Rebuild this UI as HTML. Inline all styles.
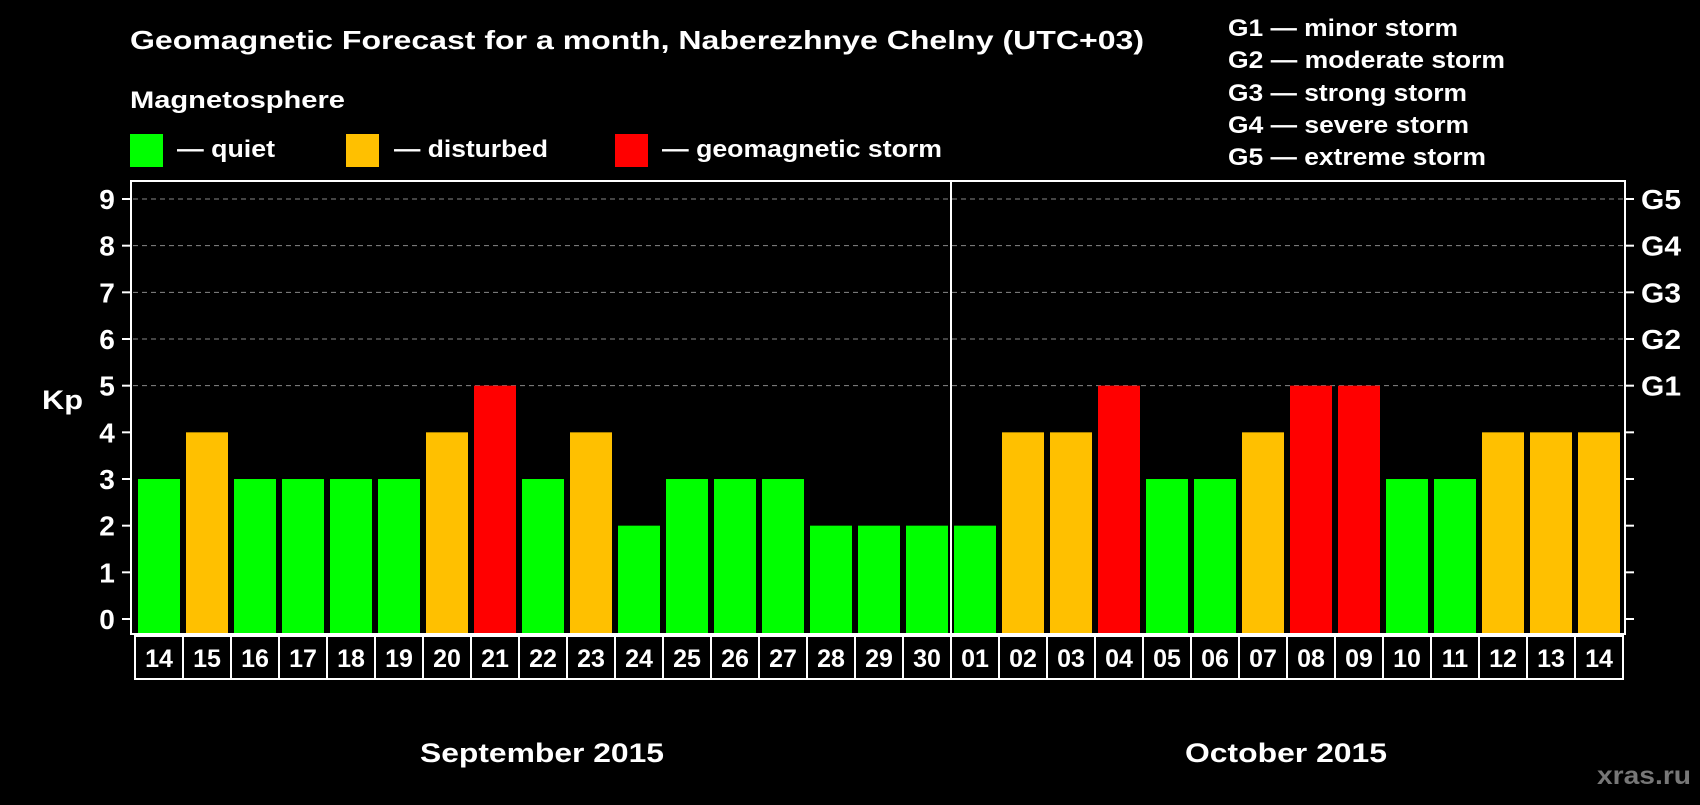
<!DOCTYPE html>
<html><head><meta charset="utf-8"><style>
body{margin:0;background:#000;width:1700px;height:800px;overflow:hidden;font-family:"Liberation Sans",Arial,sans-serif;}
svg text{font-family:"Liberation Sans",Arial,sans-serif;font-weight:bold;fill:#fff;}
</style></head><body>
<svg id="c" width="1700" height="800">
<text x="130" y="49" font-size="26" textLength="1014" lengthAdjust="spacingAndGlyphs">Geomagnetic Forecast for a month, Naberezhnye Chelny (UTC+03)</text>
<text x="130" y="108" font-size="24" textLength="215" lengthAdjust="spacingAndGlyphs">Magnetosphere</text>
<rect x="130" y="134" width="33" height="33" fill="#00ff00"/>
<text x="177" y="157" font-size="24" textLength="98" lengthAdjust="spacingAndGlyphs">— quiet</text>
<rect x="346" y="134" width="33" height="33" fill="#ffc000"/>
<text x="394" y="157" font-size="24" textLength="154" lengthAdjust="spacingAndGlyphs">— disturbed</text>
<rect x="615" y="134" width="33" height="33" fill="#ff0000"/>
<text x="662" y="157" font-size="24" textLength="280" lengthAdjust="spacingAndGlyphs">— geomagnetic storm</text>
<g font-size="24">
<text x="1228" y="36" textLength="230" lengthAdjust="spacingAndGlyphs">G1 — minor storm</text>
<text x="1228" y="68" textLength="277" lengthAdjust="spacingAndGlyphs">G2 — moderate storm</text>
<text x="1228" y="101" textLength="239" lengthAdjust="spacingAndGlyphs">G3 — strong storm</text>
<text x="1228" y="133" textLength="241" lengthAdjust="spacingAndGlyphs">G4 — severe storm</text>
<text x="1228" y="165" textLength="258" lengthAdjust="spacingAndGlyphs">G5 — extreme storm</text>
</g>
<text x="42" y="409" font-size="27" textLength="41" lengthAdjust="spacingAndGlyphs">Kp</text>
<g id="grid"></g><g id="bars"></g><g id="axes"></g>
<text x="420" y="762" font-size="27" textLength="244" lengthAdjust="spacingAndGlyphs">September 2015</text>
<text x="1185" y="762" font-size="27" textLength="202" lengthAdjust="spacingAndGlyphs">October 2015</text>
<text x="1597" y="784" font-size="25" style="fill:#777" textLength="94" lengthAdjust="spacingAndGlyphs">xras.ru</text>
</svg>
<script>
const days=["14","15","16","17","18","19","20","21","22","23","24","25","26","27","28","29","30","01","02","03","04","05","06","07","08","09","10","11","12","13","14"];
const kp=[3,4,3,3,3,3,4,5,3,4,2,3,3,3,2,2,2,2,4,4,5,3,3,4,5,5,3,3,4,4,4];
const yTicks=["0","1","2","3","4","5","6","7","8","9"];
const gLabels=["G1","G2","G3","G4","G5"];
const NS="http://www.w3.org/2000/svg";
const X0=135,STEP=48,Y0=619,UNIT=(619-199)/9;
const y=v=>Y0-v*UNIT, x=i=>X0+i*STEP;
function mk(t,a,p){const e=document.createElementNS(NS,t);for(const k in a)e.setAttribute(k,a[k]);p.appendChild(e);return e;}
const grid=document.getElementById('grid'),bars=document.getElementById('bars'),axes=document.getElementById('axes');
yTicks.forEach((t,i)=>{
 const yy=y(+t);
 if(i>=5){const l=mk('line',{x1:133,x2:1623,y1:yy,y2:yy,stroke:'#888','stroke-dasharray':'5,4','stroke-width':1},grid);
 
 }
 mk('line',{x1:122,x2:131,y1:yy,y2:yy,stroke:'#fff','stroke-width':2},axes);
 mk('line',{x1:1625,x2:1634,y1:yy,y2:yy,stroke:'#fff','stroke-width':2},axes);
 const tx=mk('text',{x:107,y:yy+10,'font-size':28,'text-anchor':'middle'},axes);tx.textContent=t;
 
 
});
gLabels.forEach((g,i)=>{const tx=mk('text',{x:1641,y:y(5+i)+10,'font-size':28,textLength:40,lengthAdjust:'spacingAndGlyphs'},axes);tx.textContent=g;
 
 });
kp.forEach((v,i)=>{
 const col=v>=5?'#ff0000':v>=4?'#ffc000':'#00ff00';
 const r=mk('rect',{x:x(i)+3,y:y(v),width:42,height:Y0+14-y(v),fill:col},bars);
 
 
 const c=mk('rect',{x:x(i),y:636,width:STEP,height:43,fill:'none',stroke:'#fff','stroke-width':2},axes);
 
 
 const t=mk('text',{x:x(i)+STEP/2,y:667,'font-size':25,'text-anchor':'middle'},axes);t.textContent=days[i];
 
 
});
const box=mk('rect',{x:131,y:181,width:1494,height:453,fill:'none',stroke:'#fff','stroke-width':2},axes);


const dv=mk('line',{x1:x(17),x2:x(17),y1:181,y2:634,stroke:'#fff','stroke-width':2},axes);


</script>
</body></html>
